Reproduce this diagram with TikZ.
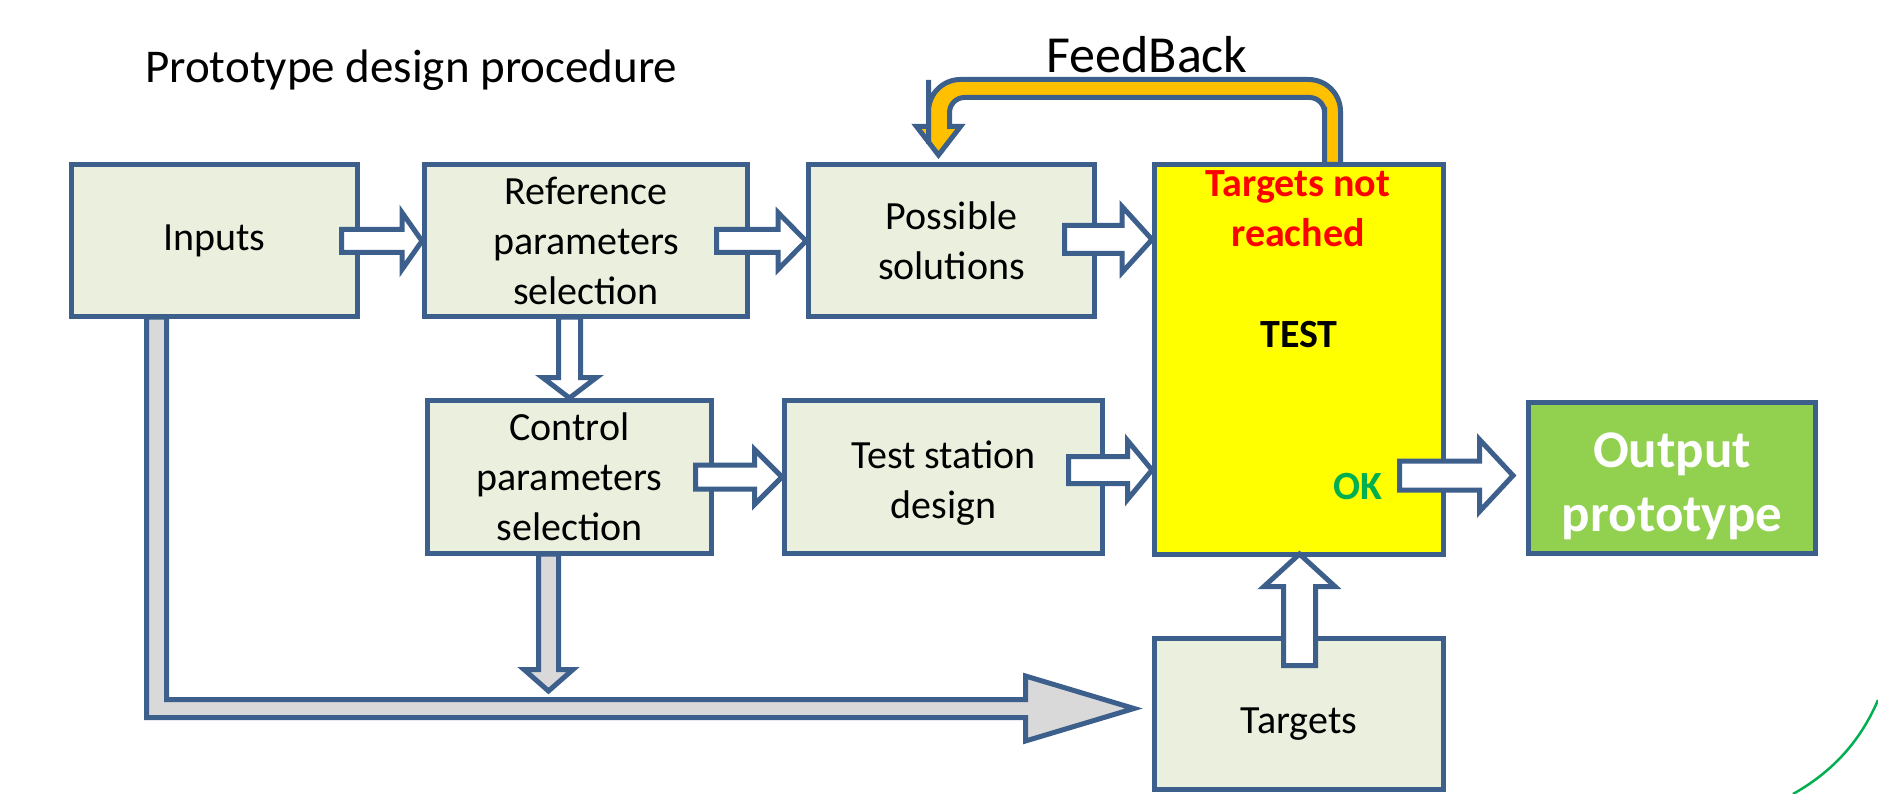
\documentclass[tikz,border=0pt]{standalone}
\usepackage{fontspec}
\setmainfont{Carlito}
\usetikzlibrary{calc}

\definecolor{edge}{HTML}{3C5F8C}
\definecolor{boxfill}{HTML}{EBF0DE}
\definecolor{greyfill}{HTML}{D9D9D9}
\definecolor{feedorange}{HTML}{FFC000}
\definecolor{outgreen}{HTML}{92D050}
\definecolor{okgreen}{HTML}{00B050}
\definecolor{testyellow}{HTML}{FFFF00}

% block arrows: style, start, tip, shaft half-width, head half-width, head length
\newcommand\blockright[6]{%
  \draw[#1] let \p1=(#2), \p2=(#3) in
    (\x1,\y1+#4pt) -- (\x2-#6pt,\y1+#4pt) -- (\x2-#6pt,\y1+#5pt) -- (\x2,\y1)
    -- (\x2-#6pt,\y1-#5pt) -- (\x2-#6pt,\y1-#4pt) -- (\x1,\y1-#4pt) -- cycle;}
\newcommand\blockdown[6]{%
  \draw[#1] let \p1=(#2), \p2=(#3) in
    (\x1-#4pt,\y1) -- (\x1-#4pt,\y2+#6pt) -- (\x1-#5pt,\y2+#6pt) -- (\x1,\y2)
    -- (\x1+#5pt,\y2+#6pt) -- (\x1+#4pt,\y2+#6pt) -- (\x1+#4pt,\y1) -- cycle;}
\newcommand\blockup[6]{%
  \draw[#1] let \p1=(#2), \p2=(#3) in
    (\x1-#4pt,\y1) -- (\x1-#4pt,\y2-#6pt) -- (\x1-#5pt,\y2-#6pt) -- (\x1,\y2)
    -- (\x1+#5pt,\y2-#6pt) -- (\x1+#4pt,\y2-#6pt) -- (\x1+#4pt,\y1) -- cycle;}

\begin{document}
\begin{tikzpicture}[x=1pt,y=-1pt,line join=miter,
  box/.style={draw=edge,line width=5pt,fill=boxfill,align=center,inner sep=0pt,
    font=\fontsize{40}{50}\selectfont},
  warrow/.style={draw=edge,line width=5pt,fill=white},
  garrow/.style={draw=edge,line width=5pt,fill=greyfill},
  farrow/.style={draw=edge,line width=5pt,fill=feedorange},
  lbl/.style={inner sep=0pt,align=center,font=\bfseries\fontsize{40}{50}\selectfont}]
\useasboundingbox (0,0) rectangle (1878,794);

% title and feedback label
\node[anchor=base west,inner sep=0pt,font=\fontsize{47}{56}\selectfont] (title) at (145,83) {Prototype design procedure};
\node[anchor=base,inner sep=0pt,font=\fontsize{52}{62}\selectfont] (fblbl) at (1147,73) {FeedBack};

% boxes
\node[box,minimum width=286pt,minimum height=152pt] (inputs) at (214.5,240.5) {Inputs};
\node[box,minimum width=323pt,minimum height=152pt] (ref) at (586,240.5) {Reference\\parameters\\selection};
\node[box,minimum width=286pt,minimum height=152pt] (possible) at (951.5,240.5) {Possible\\solutions};
\node[box,fill=testyellow,minimum width=289pt,minimum height=390pt] (test) at (1299,359.5) {};
\node[box,minimum width=284pt,minimum height=153pt] (control) at (569.5,477) {Control\\parameters\\selection};
\node[box,minimum width=318pt,minimum height=153pt,text height=83pt,text depth=0pt] (station) at (943.5,477) {Test station\\design};
\node[box,fill=outgreen,text=white,minimum width=287pt,minimum height=151pt,text height=106pt,text depth=0pt,
  font=\bfseries\fontsize{53}{64}\selectfont] (output) at (1672,478) {Output\\prototype};
\node[box,minimum width=289pt,minimum height=151pt,text height=38pt,text depth=0pt] (targets) at (1299,714) {Targets};

% texts inside the test box
\node[lbl,text=red] (notreached) at (1298,209) {Targets not\\reached};
\node[lbl] (testlbl) at (1299,335) {TEST};
\node[lbl,text=okgreen] (oklbl) at (1358,487) {OK};

% feedback U-turn arrow
\draw[farrow]
  ($(test.north)+(41.5,2.5)$) -- ($(test.north)+(41.5,-40)$)
  [rounded corners=32pt] -- ($(test.north)+(41.5,-82.5)$)
  -- ($(possible.north)+(-23,-82.5)$) -- ($(possible.north)+(-23,-50)$)
  [sharp corners] -- ($(possible.north)+(-23,-35.5)$)
  -- ($(possible.north)+(-35,-35.5)$) -- ($(possible.north)+(-13,-7)$)
  -- ($(possible.north)+(9,-35.5)$) -- ($(possible.north)+(-2,-35.5)$)
  -- ($(possible.north)+(-2,-50)$)
  [rounded corners=15pt] -- ($(possible.north)+(-2,-64.5)$)
  -- ($(test.north)+(25.5,-64.5)$) -- ($(test.north)+(25.5,-40)$)
  [sharp corners] -- ($(test.north)+(25.5,2.5)$) -- cycle;

% white block arrows
\blockright{warrow}{$(inputs.east)+(-18.5,0.5)$}{ref.west}{11.5}{28.5}{20}
\blockright{warrow}{$(ref.east)+(-33.5,0.5)$}{possible.west}{11.5}{28.5}{28}
\blockright{warrow}{$(possible.east)+(-32.5,-1)$}{test.west}{14}{33}{30}
\blockdown{warrow}{$(control.north |- ref.south)+(0,-2)$}{control.north}{11}{27}{20.5}
\blockright{warrow}{$(control.east)+(-18.5,0)$}{station.west}{12}{27.5}{27.5}
\blockright{warrow}{$(station.east)+(-36.5,-7)$}{test.west}{13.5}{29.5}{24.5}
\blockright{warrow}{$(test.east |- output.west)+(-46.5,-2.5)$}{$(output.west)+(-13,0)$}{14.5}{36}{33.5}
\blockup{warrow}{$(targets.north)+(0.5,29.5)$}{$(test.south)+(0.5,-3)$}{16}{35.5}{32.5}

% grey arrows towards the targets
\coordinate (lcorner) at (156.5,708.5);
\draw[garrow] let \p1=(lcorner), \p2=($(inputs.south)+(0,-2)$),
    \p3=($(targets.west |- lcorner)+(-18,0)$) in
  (\x1-10pt,\y2) -- (\x1-10pt,\y1-9pt) -- (\x3-108.5pt,\y1-9pt)
  -- (\x3-108.5pt,\y1-32.5pt) -- (\x3,\y1) -- (\x3-108.5pt,\y1+32.5pt)
  -- (\x3-108.5pt,\y1+9pt) -- (\x1+10pt,\y1+9pt) -- (\x1+10pt,\y2) -- cycle;
\blockdown{garrow}{$(control.south)+(-21,-2)$}{$(lcorner)+(0,-17.5)$}{10}{24.5}{21.5}

% green arc in the corner
\draw[okgreen,line width=2.5pt] (1878,700) .. controls (1860,742) and (1832,772) .. (1793,794);
\end{tikzpicture}
\end{document}
